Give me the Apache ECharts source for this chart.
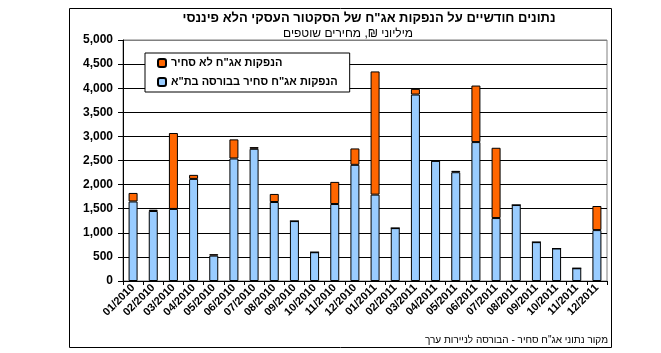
<!DOCTYPE html>
<html lang="he">
<head>
<meta charset="UTF-8">
<title>הנפקות אג"ח</title>
<style>
  html, body { margin: 0; padding: 0; background: #fff; }
  #chart { width: 661px; height: 353px; }
</style>
</head>
<body>
<div id="chart"></div>
<script src="https://cdn.jsdelivr.net/npm/echarts@6/dist/echarts.min.js"></script>
<script>
const months = ['01/2010', '02/2010', '03/2010', '04/2010', '05/2010', '06/2010',
    '07/2010', '08/2010', '09/2010', '10/2010', '11/2010', '12/2010',
    '01/2011', '02/2011', '03/2011', '04/2011', '05/2011', '06/2011',
    '07/2011', '08/2011', '09/2011', '10/2011', '11/2011', '12/2011'];

// tradable bonds on TASE (blue)
const tradable = [1650, 1452, 1495, 2118, 527, 2542, 2743, 1639, 1243, 597, 1597, 2410,
    1792, 1097, 3868, 2493, 2257, 2882, 1306, 1576, 806, 674, 264, 1056];

// non-tradable bonds (orange)
const nonTradable = [177, 27, 1575, 84, 29, 396, 35, 167, 0, 0, 459, 340,
    2556, 0, 118, 0, 28, 1173, 1458, 0, 0, 0, 0, 500];

const titleText = 'נתונים חודשיים על הנפקות אג"ח של הסקטור העסקי הלא פיננסי';
const subText = 'מיליוני ₪, מחירים שוטפים';
const sourceText = 'מקור נתוני אג"ח סחיר - הבורסה לניירות ערך';
const nameTradable = 'הנפקות אג"ח סחיר בבורסה בת"א';
const nameNonTradable = 'הנפקות אג"ח לא סחיר';

const font = '"Liberation Sans", "DejaVu Sans", Arial, sans-serif';

const chart = echarts.init(document.getElementById('chart'));

// top gridline (5,000) is grey like the plot frame, the rest black
const splitColors = [];
for (let i = 0; i < 10; i++) splitColors.push('#000');
splitColors.push('#808080');

chart.setOption({
    animation: false,
    textStyle: { fontFamily: font },
    graphic: [
        {
            type: 'rect',
            shape: { x: 69.5, y: 8.5, width: 542, height: 339 },
            style: { fill: 'none', stroke: '#000', lineWidth: 1 },
            silent: true
        },
        {
            type: 'text',
            style: {
                x: 369, y: 18,
                text: titleText, fill: '#000', font: 'bold 13px ' + font,
                textAlign: 'center', textVerticalAlign: 'middle'
            }
        },
        {
            type: 'text',
            style: {
                x: 348, y: 34,
                text: subText, fill: '#000', font: '12px ' + font,
                textAlign: 'center', textVerticalAlign: 'middle'
            }
        },
        {
            type: 'text',
            style: {
                x: 608, y: 340,
                text: sourceText, fill: '#000', font: '10px ' + font,
                textAlign: 'right', textVerticalAlign: 'middle'
            }
        }
    ],
    legend: {
        orient: 'vertical',
        left: 145,
        top: 53,
        data: [nameNonTradable, nameTradable],
        itemWidth: 8,
        itemHeight: 8,
        itemGap: 7,
        padding: [4, 12, 4, 12],
        borderColor: '#000',
        borderWidth: 1,
        backgroundColor: '#fff',
        textStyle: { fontSize: 11, fontWeight: 'bold', color: '#000', lineHeight: 12 },
        selectedMode: false
    },
    grid: {
        left: 123, right: 54, top: 40, bottom: 72,
        show: true, borderColor: '#808080', borderWidth: 1, backgroundColor: '#fff'
    },
    xAxis: {
        type: 'category',
        data: months,
        axisLine: { lineStyle: { color: '#000', width: 1 } },
        axisTick: { show: true, length: 4, lineStyle: { color: '#000' } },
        axisLabel: {
            interval: 0, rotate: 45, fontSize: 11, fontWeight: 'bold', color: '#000', margin: 5
        }
    },
    yAxis: {
        type: 'value',
        min: 0, max: 5000, interval: 500,
        axisLine: { show: true, lineStyle: { color: '#000', width: 1 } },
        axisTick: { show: true, length: 5, lineStyle: { color: '#000' } },
        splitLine: { show: true, lineStyle: { color: splitColors, width: 1 } },
        axisLabel: {
            fontSize: 12, fontWeight: 'bold', color: '#000', margin: 10,
            formatter: v => v.toLocaleString('en-US')
        }
    },
    series: [
        {
            name: nameTradable,
            type: 'bar',
            stack: 'total',
            data: tradable,
            barWidth: 9,
            itemStyle: { color: '#99CCFF', borderColor: '#000', borderWidth: 1 }
        },
        {
            name: nameNonTradable,
            type: 'bar',
            stack: 'total',
            data: nonTradable,
            barWidth: 9,
            itemStyle: { color: '#FF6600', borderColor: '#000', borderWidth: 1 }
        }
    ]
});
</script>
</body>
</html>
